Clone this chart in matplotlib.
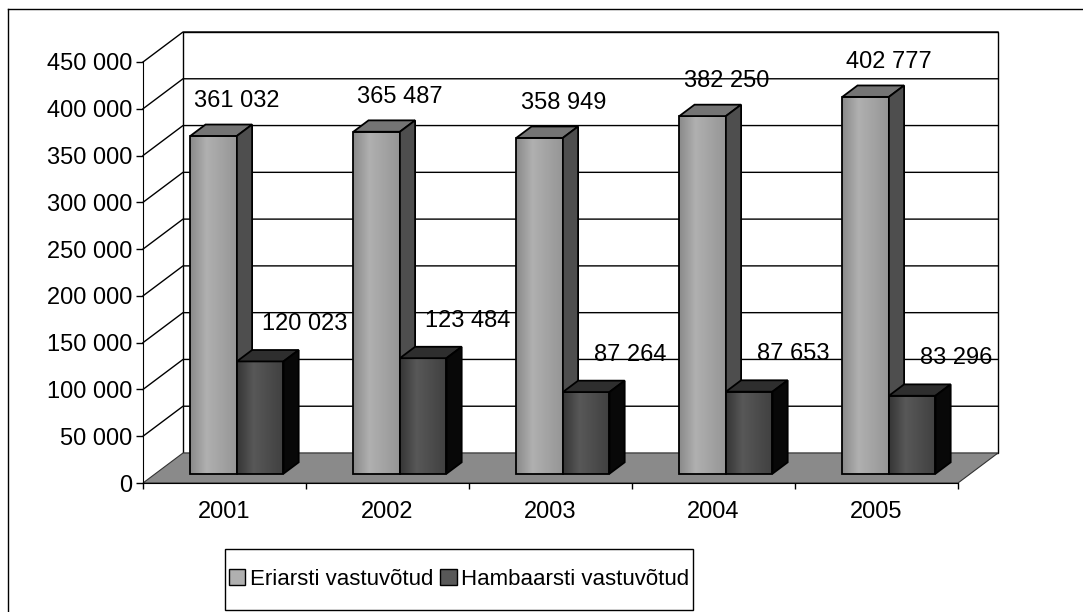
import numpy as np
import matplotlib.pyplot as plt
from matplotlib.patches import Polygon, Patch, Rectangle
from matplotlib.lines import Line2D
from matplotlib.colors import LinearSegmentedColormap

plt.rcParams['font.family'] = ['Liberation Sans', 'DejaVu Sans']

years = ['2001', '2002', '2003', '2004', '2005']
eriarsti = [361032, 365487, 358949, 382250, 402777]
hambaarsti = [120023, 123484, 87264, 87653, 83296]
series_names = ['Eriarsti vastuvõtud', 'Hambaarsti vastuvõtud']
yticks = list(range(0, 450001, 50000))

W, H = 1083, 612
fig = plt.figure(figsize=(W / 100, H / 100), dpi=100)
# front plane of the 3d box
ax = fig.add_axes([143 / W, 129 / H, 815 / W, 421 / H])
ax.set_xlim(0, len(years))
ax.set_ylim(0, 450000)

# depth of the box, in data units
DX = 40 / 163
DY = 30 * 450000 / 421
d0, d1 = 0.31, 0.69          # bar depth range (fraction of box depth)
bw = 1 / 3.5                 # bar width, gap width 150%
fs = 17

# back wall + side wall grid
nx = len(years)
ax.add_patch(Polygon([(DX, DY), (nx + DX, DY), (nx + DX, 450000 + DY), (DX, 450000 + DY)],
                     closed=True, facecolor='white', edgecolor='black', lw=1.0,
                     clip_on=False, zorder=1))
for t in yticks[1:]:
    ax.plot([0, DX, nx + DX], [t, t + DY, t + DY], color='black', lw=1.0,
            clip_on=False, zorder=1)

# floor
ax.add_patch(Polygon([(0, 0), (nx, 0), (nx + DX, DY), (DX, DY)], closed=True,
                     facecolor='#8a8a8a', edgecolor='#333333', lw=0.8,
                     clip_on=False, zorder=2))

styles = [
    dict(front=('#8a8a8a', '#b0b0b0', '#969696'), top='#747474', side='#4e4e4e'),
    dict(front=('#363636', '#585858', '#404040'), top='#2e2e2e', side='#080808'),
]
label_off = [(17, 25), (32, 27)]  # points
grad = np.linspace(0, 1, 64).reshape(1, -1)


def draw_bar(x0, x1, v, st, z):
    fx0, fx1 = x0 + d0 * DX, x1 + d0 * DX
    fy0, fy1 = d0 * DY, v + d0 * DY
    front = Polygon([(fx0, fy0), (fx1, fy0), (fx1, fy1), (fx0, fy1)], closed=True,
                    facecolor=st['front'][0], edgecolor='none', zorder=z)
    ax.add_patch(front)
    cmap = LinearSegmentedColormap.from_list('g', [(0, st['front'][0]), (0.35, st['front'][1]),
                                                   (1, st['front'][2])])
    im = ax.imshow(grad, extent=(fx0, fx1, fy0, fy1), aspect='auto', cmap=cmap,
                   zorder=z, interpolation='bilinear')
    im.set_clip_path(front)
    ax.add_patch(Polygon([(fx0, fy0), (fx1, fy0), (fx1, fy1), (fx0, fy1)], closed=True,
                         facecolor='none', edgecolor='black', lw=1.3, zorder=z + 0.1))
    ax.add_patch(Polygon([(fx0, fy1), (fx1, fy1), (x1 + d1 * DX, v + d1 * DY),
                          (x0 + d1 * DX, v + d1 * DY)], closed=True,
                         facecolor=st['top'], edgecolor='black', lw=1.3, zorder=z + 0.1))
    ax.add_patch(Polygon([(fx1, fy0), (x1 + d1 * DX, d1 * DY), (x1 + d1 * DX, v + d1 * DY),
                          (fx1, fy1)], closed=True,
                         facecolor=st['side'], edgecolor='black', lw=1.3, zorder=z + 0.1))
    return (fx0 + fx1) / 2, fy1


z = 3
for i in range(nx):
    for s, vals in enumerate([eriarsti, hambaarsti]):
        x0 = i + 0.75 * bw + s * bw
        cx, cy = draw_bar(x0, x0 + bw, vals[i], styles[s], z)
        z += 1
        ax.annotate(f'{vals[i]:,}'.replace(',', ' '), (cx, cy), xytext=label_off[s],
                    textcoords='offset points', ha='center', va='center',
                    fontsize=fs, zorder=50)

ax.set_xlim(0, nx)
ax.set_ylim(0, 450000)

# axes, ticks
for sp in ['top', 'right']:
    ax.spines[sp].set_visible(False)
ax.spines['left'].set_zorder(20)
ax.spines['bottom'].set_zorder(20)
ax.set_yticks(yticks)
ax.set_yticklabels([f'{t:,}'.replace(',', ' ') for t in yticks])
ax.set_xticks(range(nx + 1))
ax.set_xticklabels([])
ax.set_xticks(np.arange(nx) + 0.5, minor=True)
ax.set_xticklabels(years, minor=True)
ax.tick_params(axis='y', direction='out', length=5, width=1, pad=3, labelsize=fs)
ax.tick_params(axis='x', which='major', direction='out', length=4.5, width=1)
ax.tick_params(axis='x', which='minor', length=0, pad=13, labelsize=fs)
ax.patch.set_visible(False)

# outer chart frame
fig.add_artist(Line2D([8 / W, 8 / W], [0, 1 - 9 / H], color='black', lw=1.0))
fig.add_artist(Line2D([8 / W, 1], [1 - 9 / H, 1 - 9 / H], color='black', lw=1.0))

# legend box drawn separately, content centred inside it
fig.add_artist(Rectangle((225 / W, 1 - 610 / H), 468 / W, 61 / H, transform=fig.transFigure,
                         facecolor='white', edgecolor='black', lw=1.0))
handles = [Patch(facecolor=styles[s]['front'][1], edgecolor='black', lw=1.0) for s in range(2)]
leg = fig.legend(handles, series_names, loc='center', bbox_to_anchor=(459 / W, 1 - 579.5 / H),
                 fontsize=16, frameon=False, ncol=2, handlelength=0.75,
                 handleheight=0.75, handletextpad=0.2, columnspacing=0.3, borderpad=0,
                 borderaxespad=0)

fig.savefig('out.png', dpi=100)
